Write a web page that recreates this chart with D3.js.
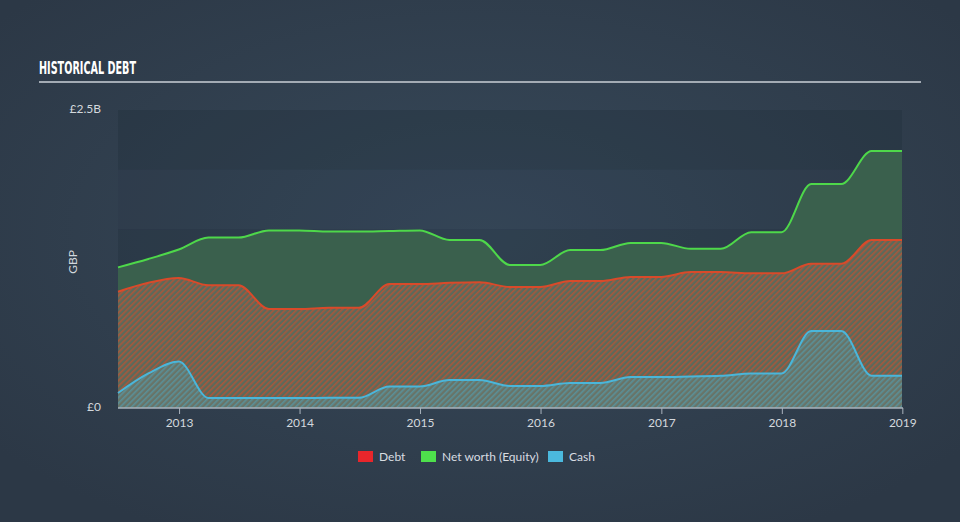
<!DOCTYPE html>
<html>
<head>
<meta charset="utf-8">
<script src="https://cdn.jsdelivr.net/npm/d3@7"></script>
<style>
  html, body { margin: 0; padding: 0; background: #303e4d; }
  #chart { width: 960px; height: 522px; }
</style>
</head>
<body>
<div id="chart"></div>
<script>
// quarter ends, Jun 2012 .. Dec 2018
var dates = ["2012-06-30","2012-09-30","2012-12-31","2013-03-31","2013-06-30","2013-09-30","2013-12-31",
             "2014-03-31","2014-06-30","2014-09-30","2014-12-31","2015-03-31","2015-06-30","2015-09-30",
             "2015-12-31","2016-03-31","2016-06-30","2016-09-30","2016-12-31","2017-03-31","2017-06-30",
             "2017-09-30","2017-12-31","2018-03-31","2018-06-30","2018-09-30","2018-12-31"];

// values in £B
var equity = [1.18,1.25,1.33,1.43,1.43,1.49,1.49,1.48,1.48,1.485,1.49,1.41,1.41,1.20,1.20,1.325,1.325,
              1.385,1.385,1.335,1.335,1.475,1.475,1.88,1.88,2.156,2.156];
var debt   = [0.975,1.05,1.09,1.03,1.03,0.83,0.83,0.84,0.84,1.04,1.04,1.05,1.055,1.015,1.015,1.065,1.065,
              1.10,1.10,1.14,1.14,1.13,1.13,1.21,1.21,1.41,1.41];
var cash   = [0.126,0.29,0.39,0.084,0.084,0.084,0.084,0.085,0.085,0.18,0.18,0.235,0.235,0.185,0.185,0.21,0.21,
              0.26,0.26,0.265,0.27,0.29,0.29,0.645,0.645,0.27,0.27];

var yearTicks = [2013,2014,2015,2016,2017,2018,2019];
var yTicks = [0, 2.5];
var bandStops = [0, 0.5, 1.0, 1.5, 2.0, 2.5];
var legendItems = ["Debt", "Net worth (Equity)", "Cash"];
var legendColors = ["#e8262b", "#4ee04c", "#4bb9de"];

var width = 960, height = 522,
    plotL = 118, plotR = 902, plotT = 110, plotB = 408;

var parse = d3.timeParse("%Y-%m-%d");
var rows = dates.map(function(d, i) {
  return {date: parse(d), equity: equity[i], debt: debt[i], cash: cash[i]};
});

var svg = d3.select("#chart").append("svg")
    .attr("width", width)
    .attr("height", height)
    .style("font-family", "Lato, 'Open Sans', sans-serif");

var defs = svg.append("defs");

var bg = defs.append("radialGradient").attr("id", "bg")
    .attr("cx", "50%").attr("cy", "45%").attr("r", "65%");
bg.append("stop").attr("offset", "0%").attr("stop-color", "#37495a");
bg.append("stop").attr("offset", "100%").attr("stop-color", "#2c3846");

function hatch(id, base, stripe) {
  var p = defs.append("pattern").attr("id", id)
      .attr("patternUnits", "userSpaceOnUse")
      .attr("width", 4).attr("height", 4)
      .attr("patternTransform", "rotate(45)");
  p.append("rect").attr("width", 4).attr("height", 4).attr("fill", base);
  p.append("rect").attr("width", 1.6).attr("height", 4).attr("fill", stripe);
}
hatch("debtHatch", "#5b6a5b", "#a8573c");
hatch("cashHatch", "#687468", "#5a9098");

svg.append("rect").attr("width", width).attr("height", height).attr("fill", "url(#bg)");

var x = d3.scaleTime()
    .domain([parse("2012-06-30"), parse("2018-12-31")])
    .range([plotL, plotR]);
var y = d3.scaleLinear().domain([0, 2.5]).range([plotB, plotT]);

// background bands
svg.append("g").selectAll("rect")
  .data(d3.pairs(bandStops))
  .enter().append("rect")
    .attr("x", plotL)
    .attr("width", plotR - plotL)
    .attr("y", function(d) { return y(d[1]); })
    .attr("height", function(d) { return y(d[0]) - y(d[1]); })
    .attr("fill", "#1e2a36")
    .attr("fill-opacity", function(d, i) { return i % 2 === 0 ? 0.28 : 0.1; });

var curve = d3.curveMonotoneX;

function area(key) {
  return d3.area().curve(curve)
    .x(function(d) { return x(d.date); })
    .y0(y(0))
    .y1(function(d) { return y(d[key]); });
}
function line(key) {
  return d3.line().curve(curve)
    .x(function(d) { return x(d.date); })
    .y(function(d) { return y(d[key]); });
}

svg.append("path").datum(rows).attr("d", area("equity")).attr("fill", "#3a604d");
svg.append("path").datum(rows).attr("d", area("debt")).attr("fill", "url(#debtHatch)");
svg.append("path").datum(rows).attr("d", area("cash")).attr("fill", "url(#cashHatch)");

svg.append("path").datum(rows).attr("d", line("equity"))
    .attr("fill", "none").attr("stroke", "#4ed84a").attr("stroke-width", 2);
svg.append("path").datum(rows).attr("d", line("debt"))
    .attr("fill", "none").attr("stroke", "#d94a2a").attr("stroke-width", 2);
svg.append("path").datum(rows).attr("d", line("cash"))
    .attr("fill", "none").attr("stroke", "#4ab6da").attr("stroke-width", 2);

// x axis
var xAxis = d3.axisBottom(x)
    .tickValues(yearTicks.map(function(yr) { return new Date(yr, 0, 1); }))
    .tickFormat(d3.timeFormat("%Y"))
    .tickSize(6)
    .tickPadding(4);

var gx = svg.append("g")
    .attr("transform", "translate(0," + plotB + ")")
    .call(xAxis);
gx.select(".domain").attr("stroke", "#aab3bd").attr("stroke-width", 1.5)
    .attr("d", "M" + plotL + ",0H" + (plotR + 1));
gx.selectAll(".tick line").attr("stroke", "#aab3bd");
gx.selectAll(".tick text").attr("fill", "#d3d8dd").style("font-size", "12px")
    .style("font-family", "Lato, 'Open Sans', sans-serif");

// y labels
svg.append("g").selectAll("text")
  .data(yTicks)
  .enter().append("text")
    .attr("x", 101)
    .attr("y", function(d) { return y(d) + 3; })
    .attr("text-anchor", "end")
    .attr("fill", "#d3d8dd")
    .style("font-size", "12px")
    .text(function(d) { return d === 0 ? "£0" : "£" + d + "B"; });

svg.append("text")
    .attr("transform", "translate(77,262) rotate(-90)")
    .attr("text-anchor", "middle")
    .attr("fill", "#d3d8dd")
    .style("font-size", "12px")
    .text("GBP");

// title
svg.append("text")
    .attr("x", 39).attr("y", 74)
    .attr("fill", "#ffffff")
    .attr("textLength", 97)
    .attr("lengthAdjust", "spacingAndGlyphs")
    .style("font-family", "'Liberation Sans Narrow', 'DejaVu Sans Condensed', sans-serif")
    .style("font-weight", "bold")
    .style("font-size", "18px")
    .text("HISTORICAL DEBT");

svg.append("line")
    .attr("x1", 39).attr("x2", 921)
    .attr("y1", 82).attr("y2", 82)
    .attr("stroke", "#a3abb4").attr("stroke-width", 2);

// legend
var legendX = [358, 421, 548];
var lg = svg.append("g").selectAll("g")
  .data(legendItems)
  .enter().append("g")
    .attr("transform", function(d, i) { return "translate(" + legendX[i] + ",451)"; });
lg.append("rect")
    .attr("width", 15).attr("height", 11)
    .attr("fill", function(d, i) { return legendColors[i]; });
lg.append("text")
    .attr("x", 21).attr("y", 10)
    .attr("fill", "#d8dce1")
    .style("font-size", "12px")
    .text(function(d) { return d; });
</script>
</body>
</html>
